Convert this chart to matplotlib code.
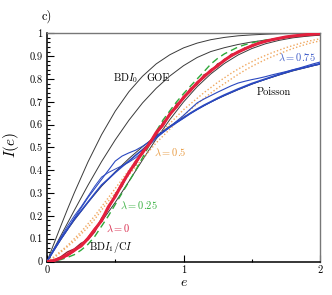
import matplotlib
matplotlib.use("Agg")
import matplotlib.pyplot as plt
from matplotlib.ticker import FixedLocator, MultipleLocator

plt.rcParams['font.family'] = ['cmr10', 'DejaVu Serif']
plt.rcParams['mathtext.fontset'] = 'cm'
plt.rcParams['axes.formatter.use_mathtext'] = True

# ---------------- theory curves ----------------
e_th = [0, 0.05, 0.1, 0.15, 0.2, 0.3, 0.4, 0.5, 0.6, 0.7, 0.8, 0.9, 1.0,
        1.1, 1.2, 1.3, 1.4, 1.5, 1.6, 1.7, 1.8, 1.9, 2.0]
bdi0 = [0, 0.077, 0.154, 0.229, 0.301, 0.436, 0.556, 0.659, 0.744, 0.812, 0.866,
        0.906, 0.936, 0.957, 0.972, 0.982, 0.989, 0.993, 0.996, 0.998, 0.999, 1.0, 1.0]
goe = [0, 0.055, 0.112, 0.168, 0.224, 0.334, 0.438, 0.533, 0.619, 0.695, 0.759,
       0.813, 0.858, 0.894, 0.920, 0.937, 0.951, 0.962, 0.970, 0.977, 0.984, 0.989, 0.993]
poisson = [0, 0.049, 0.095, 0.139, 0.181, 0.259, 0.330, 0.393, 0.451, 0.503, 0.551,
           0.593, 0.632, 0.667, 0.699, 0.727, 0.753, 0.777, 0.798, 0.817, 0.835, 0.850, 0.865]
bdi1_ci = [0, 0.003, 0.012, 0.027, 0.047, 0.102, 0.175, 0.259, 0.351, 0.445, 0.537,
           0.622, 0.699, 0.766, 0.822, 0.868, 0.905, 0.933, 0.954, 0.969, 0.980, 0.987, 0.992]

# ---------------- numerical data ----------------
e_data = [0, 0.05, 0.1, 0.15, 0.2, 0.25, 0.3, 0.35, 0.4, 0.45, 0.5, 0.55, 0.6, 0.65,
          0.7, 0.75, 0.8, 0.85, 0.9, 0.95, 1.0, 1.05, 1.1, 1.15, 1.2, 1.25, 1.3, 1.35,
          1.4, 1.45, 1.5, 1.55, 1.6, 1.65, 1.7, 1.75, 1.8, 1.85, 1.9, 1.95, 2.0]

lam0_a = [0, 0.004, 0.015, 0.030, 0.050, 0.068, 0.100, 0.140, 0.180, 0.240, 0.285,
          0.340, 0.390, 0.435, 0.478, 0.515, 0.565, 0.600, 0.645, 0.680, 0.718, 0.750,
          0.782, 0.810, 0.836, 0.858, 0.882, 0.902, 0.918, 0.932, 0.945, 0.956, 0.965,
          0.972, 0.978, 0.984, 0.988, 0.991, 0.994, 0.996, 0.998]
lam0_b = [0, 0.006, 0.020, 0.042, 0.055, 0.080, 0.095, 0.130, 0.190, 0.230, 0.295,
          0.330, 0.395, 0.425, 0.485, 0.520, 0.555, 0.610, 0.640, 0.690, 0.712, 0.758,
          0.776, 0.818, 0.830, 0.866, 0.878, 0.908, 0.915, 0.936, 0.942, 0.958, 0.963,
          0.974, 0.977, 0.985, 0.987, 0.992, 0.993, 0.997, 0.998]
lam0_c = [0, 0.003, 0.012, 0.025, 0.045, 0.072, 0.105, 0.145, 0.175, 0.235, 0.290,
          0.345, 0.385, 0.440, 0.472, 0.522, 0.560, 0.595, 0.650, 0.676, 0.722, 0.745,
          0.786, 0.806, 0.840, 0.855, 0.885, 0.900, 0.920, 0.930, 0.947, 0.955, 0.966,
          0.971, 0.979, 0.983, 0.989, 0.990, 0.995, 0.996, 0.999]
lam025 = [0, 0.002, 0.008, 0.018, 0.030, 0.050, 0.075, 0.110, 0.155, 0.200, 0.250,
          0.300, 0.350, 0.400, 0.455, 0.510, 0.570, 0.620, 0.660, 0.700, 0.735, 0.768,
          0.800, 0.832, 0.865, 0.890, 0.910, 0.925, 0.940, 0.950, 0.958, 0.965, 0.970,
          0.975, 0.979, 0.984, 0.988, 0.991, 0.994, 0.996, 0.998]
lam05_a = [0, 0.020, 0.045, 0.070, 0.100, 0.130, 0.165, 0.200, 0.240, 0.280, 0.320,
           0.360, 0.400, 0.440, 0.475, 0.510, 0.545, 0.575, 0.605, 0.635, 0.665, 0.690,
           0.715, 0.740, 0.762, 0.785, 0.805, 0.825, 0.843, 0.860, 0.875, 0.890, 0.903,
           0.915, 0.926, 0.937, 0.946, 0.955, 0.963, 0.970, 0.976]
lam05_b = [0, 0.015, 0.040, 0.065, 0.090, 0.120, 0.150, 0.185, 0.225, 0.265, 0.300,
           0.340, 0.380, 0.415, 0.450, 0.485, 0.520, 0.550, 0.580, 0.610, 0.640, 0.665,
           0.690, 0.715, 0.738, 0.760, 0.780, 0.800, 0.820, 0.838, 0.855, 0.870, 0.885,
           0.898, 0.910, 0.922, 0.933, 0.943, 0.952, 0.960, 0.967]
lam075_a = [0, 0.048, 0.095, 0.140, 0.190, 0.235, 0.280, 0.320, 0.360, 0.400, 0.440,
            0.462, 0.476, 0.488, 0.505, 0.525, 0.550, 0.570, 0.590, 0.615, 0.640, 0.668,
            0.695, 0.712, 0.727, 0.742, 0.756, 0.770, 0.782, 0.790, 0.797, 0.803, 0.810,
            0.818, 0.825, 0.832, 0.840, 0.848, 0.857, 0.866, 0.874]
lam075_b = [0, 0.050, 0.100, 0.143, 0.185, 0.222, 0.260, 0.298, 0.335, 0.362, 0.390,
            0.416, 0.440, 0.466, 0.490, 0.518, 0.545, 0.568, 0.590, 0.610, 0.630, 0.650,
            0.668, 0.685, 0.700, 0.716, 0.730, 0.743, 0.756, 0.768, 0.780, 0.790, 0.800,
            0.810, 0.820, 0.829, 0.838, 0.845, 0.852, 0.860, 0.867]
lam075_c = [0, 0.055, 0.105, 0.155, 0.200, 0.240, 0.285, 0.330, 0.370, 0.390, 0.405,
            0.420, 0.435, 0.455, 0.480, 0.510, 0.540, 0.565, 0.588, 0.608, 0.627, 0.647,
            0.665, 0.682, 0.698, 0.713, 0.727, 0.740, 0.753, 0.765, 0.777, 0.788, 0.798,
            0.808, 0.818, 0.827, 0.836, 0.844, 0.851, 0.858, 0.864]

x_ticks = [0, 1, 2]
x_ticklabels = ["0", "1", "2"]
y_ticks = [0, 0.1, 0.2, 0.3, 0.4, 0.5, 0.6, 0.7, 0.8, 0.9, 1.0]
y_ticklabels = ["0", "0.1", "0.2", "0.3", "0.4", "0.5", "0.6", "0.7", "0.8", "0.9", "1"]

C_RED = '#e3203e'
C_DRED = '#9a1f2e'
C_GREEN = '#2fa83a'
C_ORANGE = '#f0a860'
C_BLUE = '#2a48c0'

fig = plt.figure(figsize=(3.32, 2.95), dpi=100)
ax = fig.add_axes([47 / 332, 1 - 261.5 / 295, (320 - 47) / 332, (261.5 - 33.3) / 295])

# theory
th_kw = dict(color='#3a3a3a', lw=0.7, zorder=2)
ax.plot(e_th, bdi0, **th_kw)
ax.plot(e_th, goe, **th_kw)
ax.plot(e_th, poisson, **th_kw)
ax.plot(e_th, bdi1_ci, **th_kw)

# data
ax.plot(e_data, lam05_a, color=C_ORANGE, lw=1.0, ls=(0, (1, 1.5)), zorder=3)
ax.plot(e_data, lam05_b, color=C_ORANGE, lw=1.0, ls=(0, (1, 1.5)), zorder=3)
ax.plot(e_data, lam075_c, color=C_BLUE, lw=0.7, zorder=3)
ax.plot(e_data, lam075_a, color=C_BLUE, lw=0.8, zorder=3)
ax.plot(e_data, lam075_b, color=C_BLUE, lw=1.2, zorder=3)
ax.plot(e_data, lam025, color=C_GREEN, lw=1.0, ls=(0, (5, 3)), zorder=3)
ax.plot(e_data, lam0_b, color=C_DRED, lw=1.0, zorder=4)
ax.plot(e_data, lam0_c, color=C_RED, lw=1.2, zorder=4)
ax.plot(e_data, lam0_a, color=C_RED, lw=2.2, zorder=4)

ax.set_xlim(0, 2)
ax.set_ylim(0, 1)
ax.xaxis.set_major_locator(FixedLocator(x_ticks))
ax.set_xticklabels(x_ticklabels)
ax.xaxis.set_minor_locator(MultipleLocator(0.5))
ax.yaxis.set_major_locator(FixedLocator(y_ticks))
ax.set_yticklabels(y_ticklabels)
ax.yaxis.set_minor_locator(MultipleLocator(0.02))

ax.tick_params(which='both', direction='in', top=False, right=False, labelsize=7.5, width=0.8)
ax.tick_params(which='major', length=5, pad=3)
ax.tick_params(which='minor', length=2.5)
for s in ['left', 'bottom']:
    ax.spines[s].set_linewidth(1.1)
    ax.spines[s].set_color('black')
for s in ['top', 'right']:
    ax.spines[s].set_linewidth(1.0)
    ax.spines[s].set_color('#777777')

ax.set_xlabel(r'$e$', fontsize=10, labelpad=1)
ax.set_ylabel(r'$I(e)$', fontsize=11)
ax.yaxis.set_label_coords(-0.095, 0.51)

fs = 7.5
ax.text(0.575, 0.805, r'BD$I_0$', fontsize=fs, ha='center', va='center', zorder=6)
ax.text(0.81, 0.805, r'GOE', fontsize=fs, ha='center', va='center', zorder=6)
ax.text(1.66, 0.74, r'Poisson', fontsize=fs, ha='center', va='center', zorder=6)
ax.text(0.47, 0.06, r'BD$I_1$/C$I$', fontsize=fs, ha='center', va='center', zorder=6)
ax.text(1.83, 0.893, r'$\lambda = 0.75$', fontsize=fs, ha='center', va='center', color='#3c5ac8', zorder=6)
ax.text(0.90, 0.478, r'$\lambda = 0.5$', fontsize=fs, ha='center', va='center', color='#e89a40', zorder=6)
ax.text(0.67, 0.245, r'$\lambda = 0.25$', fontsize=fs, ha='center', va='center', color='#38b040', zorder=6)
ax.text(0.52, 0.145, r'$\lambda = 0$', fontsize=fs, ha='center', va='center', color='#d8284a', zorder=6)

fig.text(42 / 332, 1 - 16 / 295, 'c)', fontsize=9, ha='left', va='center')

fig.savefig('out.png', dpi=100)
